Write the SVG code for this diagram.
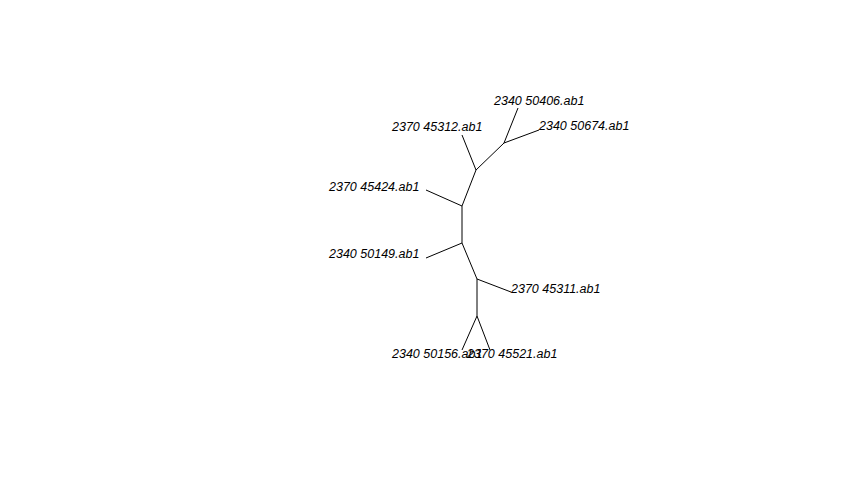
<svg xmlns="http://www.w3.org/2000/svg" width="864" height="504" viewBox="0 0 864 504">
<style>
.e{stroke:#000;stroke-width:1;fill:none}
.t{font-family:"Liberation Sans",Arial,sans-serif;font-style:italic;font-size:12.5px;fill:#000}
</style>
<rect width="864" height="504" fill="#fff"/>
<g id="edges">
<line class="e" x1="476" y1="170" x2="504" y2="143"/>
<line class="e" x1="504" y1="143" x2="518" y2="108"/>
<line class="e" x1="504" y1="143" x2="539" y2="130"/>
<line class="e" x1="476" y1="170" x2="462" y2="135"/>
<line class="e" x1="476" y1="170" x2="462" y2="206"/>
<line class="e" x1="462" y1="206" x2="426" y2="190"/>
<line class="e" x1="462" y1="206" x2="462" y2="243"/>
<line class="e" x1="462" y1="243" x2="426" y2="258"/>
<line class="e" x1="462" y1="243" x2="477" y2="279"/>
<line class="e" x1="477" y1="279" x2="511" y2="292"/>
<line class="e" x1="477" y1="279" x2="477" y2="316"/>
<line class="e" x1="477" y1="316" x2="462" y2="350"/>
<line class="e" x1="477" y1="316" x2="490" y2="350"/>
</g>
<g id="n1"><text class="t" x="494" y="105">2340 50406.ab1</text></g>
<g id="n2"><text class="t" x="539" y="130">2340 50674.ab1</text></g>
<g id="n3"><text class="t" x="392" y="131">2370 45312.ab1</text></g>
<g id="n4"><text class="t" x="329" y="191">2370 45424.ab1</text></g>
<g id="n5"><text class="t" x="329" y="258">2340 50149.ab1</text></g>
<g id="n6"><text class="t" x="511" y="293">2370 45311.ab1</text></g>
<g id="n7"><text class="t" x="392" y="358">2340 50156.ab1</text></g>
<g id="n8"><text class="t" x="467" y="358">2370 45521.ab1</text></g>
</svg>
